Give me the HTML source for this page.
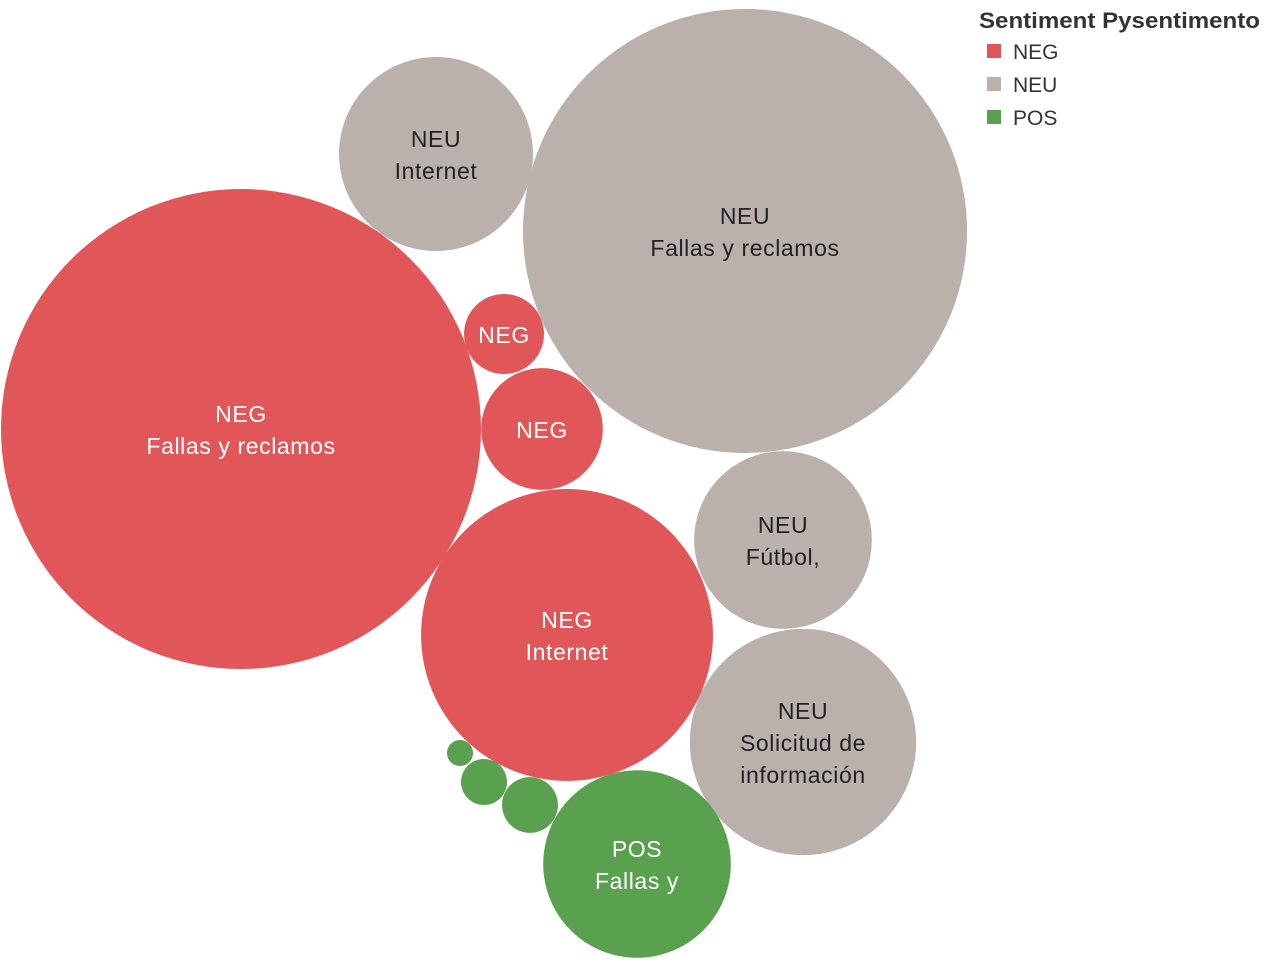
<!DOCTYPE html>
<html><head><meta charset="utf-8">
<style>
html,body{margin:0;padding:0;background:#fff;width:1264px;height:968px;overflow:hidden}
svg text{font-family:"Liberation Sans",sans-serif}
</style></head>
<body>
<svg id="chart" width="1264" height="968" viewBox="0 0 1264 968" xmlns="http://www.w3.org/2000/svg">
<g id="bubbles"></g>
<g>
<text x="979" y="28" font-size="22" font-weight="bold" fill="#333" textLength="281" lengthAdjust="spacingAndGlyphs">Sentiment Pysentimento</text>
<rect x="987" y="44" width="14" height="14" fill="#e15759"/>
<text x="1013" y="59" font-size="21" fill="#333">NEG</text>
<rect x="987" y="77" width="14" height="14" fill="#bab0ac"/>
<text x="1013" y="92" font-size="21" fill="#333">NEU</text>
<rect x="987" y="110" width="14" height="14" fill="#59a14f"/>
<text x="1013" y="125" font-size="21" fill="#333">POS</text>
</g>
</svg>
<script>
const sentiments = ["NEG","NEU","NEU","NEG","NEG","NEG","NEU","NEU","POS","POS","POS","POS"];
const topics = [["Fallas y reclamos"],["Fallas y reclamos"],["Internet"],[],[],["Internet"],["Fútbol,"],["Solicitud de","información"],["Fallas y"],[],[],[]];
const values = [576, 493, 94, 16, 37, 213, 79, 128, 88, 7.8, 5.3, 1.7];
// packed layout (centers) as in reference
const layoutX = [241, 745, 436, 504, 542, 567, 783, 803, 637, 530, 484, 460];
const layoutY = [429, 231, 154, 334, 429, 635, 540, 742, 864, 805, 782, 753];
const colors = {NEG:"#e15759", NEU:"#bab0ac", POS:"#59a14f"};
const textColors = {NEG:"#fff", NEU:"#222", POS:"#fff"};
function rScale(v){ return 10*Math.sqrt(v); }
const ns = "http://www.w3.org/2000/svg";
const g = document.getElementById('bubbles');
values.forEach((v,i)=>{
  const c = document.createElementNS(ns,'circle');
  
  
  c.setAttribute('cx',layoutX[i]); c.setAttribute('cy',layoutY[i]);
  c.setAttribute('r',rScale(v)); c.setAttribute('fill',colors[sentiments[i]]);
  g.appendChild(c);
  const r = rScale(v);
  if (r < 35) return;
  const lines = [sentiments[i]].concat(topics[i]);
  const lh = 32;
  const y0 = layoutY[i] - (lines.length-1)*lh/2 + 9;
  lines.forEach((t,j)=>{
    const tx = document.createElementNS(ns,'text');
    
    
    tx.setAttribute('x',layoutX[i]); tx.setAttribute('y',y0+j*lh);
    tx.setAttribute('text-anchor','middle'); tx.setAttribute('font-size','23');
    tx.setAttribute('letter-spacing','0.6');
    tx.setAttribute('fill',textColors[sentiments[i]]);
    tx.textContent = t;
    g.appendChild(tx);
  });
});
</script>
</body></html>
